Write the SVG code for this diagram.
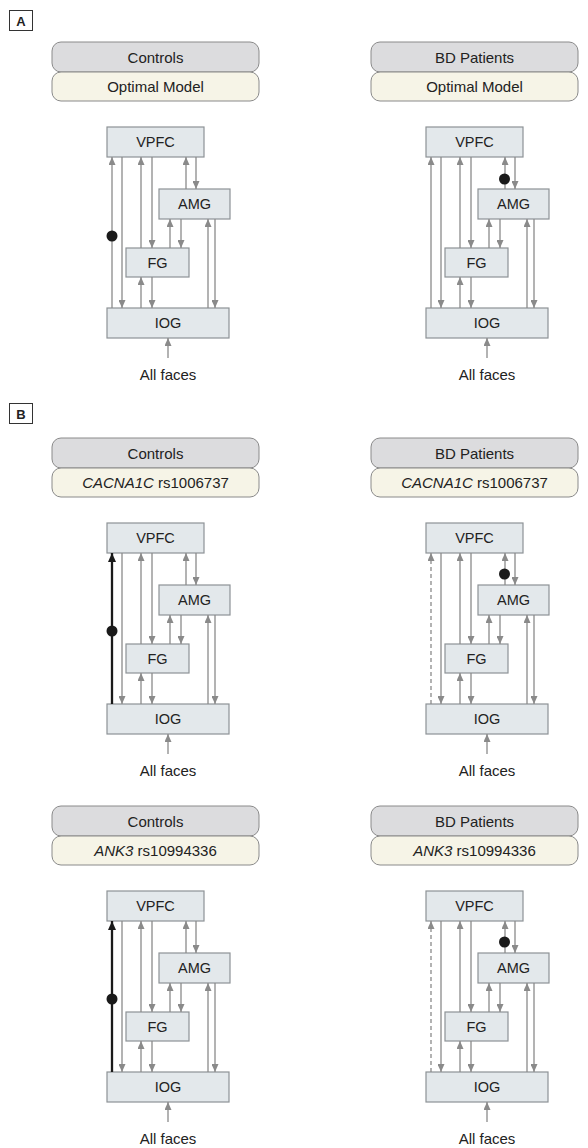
<svg xmlns="http://www.w3.org/2000/svg" xmlns:xlink="http://www.w3.org/1999/xlink" width="588" height="1148" viewBox="0 0 588 1148">
<style>
text{font-family:"Liberation Sans",Arial,sans-serif;fill:#222;}
.ht{font-size:15px;text-anchor:middle;}
.nt{font-size:14.5px;text-anchor:middle;}
.pl{font-size:13px;font-weight:bold;text-anchor:middle;}
.hd1{fill:#dcdcde;stroke:#8a8a8a;stroke-width:1;}
.hd2{fill:#f6f4e7;stroke:#8a8a8a;stroke-width:1;}
.nd{fill:#e3e8eb;stroke:#8d9296;stroke-width:1.2;}
.lb{fill:#fff;stroke:#333;stroke-width:1;}
.c{stroke:#8a8a8a;stroke-width:1.3;fill:none;marker-end:url(#ah);}
.k{stroke:#1a1a1a;stroke-width:2.3;fill:none;marker-end:url(#akb);}
.d{stroke:#8a8a8a;stroke-width:1.3;fill:none;stroke-dasharray:4 3;marker-end:url(#ah);}
.dot{fill:#1a1a1a;}
</style>
<defs>
<marker id="ah" markerUnits="userSpaceOnUse" markerWidth="8" markerHeight="7" refX="8" refY="3.5" orient="auto"><path d="M0,0 L8,3.5 L0,7 z" fill="#8a8a8a"/></marker>
<marker id="akb" markerUnits="userSpaceOnUse" markerWidth="9" markerHeight="8" refX="9" refY="4" orient="auto"><path d="M0,0 L9,4 L0,8 z" fill="#1a1a1a"/></marker>
</defs>

<g id="label-A"><rect class="lb" x="9.5" y="10.5" width="23" height="20"/><text class="pl" x="21" y="25.5">A</text></g>
<g id="label-B"><rect class="lb" x="9.5" y="403.5" width="23" height="20"/><text class="pl" x="21" y="418.5">B</text></g>

<!-- Panel A Controls -->
<g id="A-controls">
<g id="A-ctl-header"><rect class="hd1" x="52" y="42" width="207" height="30" rx="9"/><text class="ht" x="155.5" y="62.5">Controls</text><rect class="hd2" x="52" y="72" width="207" height="29" rx="9"/><text class="ht" x="155.5" y="92">Optimal Model</text></g>
<g id="A-ctl-VPFC"><rect class="nd" x="107" y="127" width="97" height="30"/><text class="nt" x="155.5" y="147">VPFC</text></g>
<g id="A-ctl-AMG"><rect class="nd" x="159" y="189" width="71" height="30"/><text class="nt" x="194.5" y="209">AMG</text></g>
<g id="A-ctl-FG"><rect class="nd" x="126" y="248" width="63" height="29"/><text class="nt" x="157.5" y="267.5">FG</text></g>
<g id="A-ctl-IOG"><rect class="nd" x="107" y="308" width="122" height="30"/><text class="nt" x="168" y="328">IOG</text></g>
<g id="A-ctl-input"><text class="ht" x="168" y="380">All faces</text></g>
<g id="A-ctl-connectors">
<line class="c" x1="112" y1="308" x2="112" y2="157"/>
<line class="c" x1="122" y1="157" x2="122" y2="308"/>
<line class="c" x1="141" y1="248" x2="141" y2="157"/>
<line class="c" x1="152" y1="157" x2="152" y2="248"/>
<line class="c" x1="186" y1="189" x2="186" y2="157"/>
<line class="c" x1="196" y1="157" x2="196" y2="189"/>
<line class="c" x1="170" y1="248" x2="170" y2="219"/>
<line class="c" x1="181" y1="219" x2="181" y2="248"/>
<line class="c" x1="141" y1="308" x2="141" y2="277"/>
<line class="c" x1="152" y1="277" x2="152" y2="308"/>
<line class="c" x1="208" y1="308" x2="208" y2="219"/>
<line class="c" x1="215" y1="219" x2="215" y2="308"/>
<line class="c" x1="168" y1="358" x2="168" y2="338"/>
<circle class="dot" cx="112" cy="236" r="5.5"/>
</g>
</g>

<!-- Panel A BD -->
<g id="A-bd" transform="translate(319,0)">
<g id="A-bd-header"><rect class="hd1" x="52" y="42" width="207" height="30" rx="9"/><text class="ht" x="155.5" y="62.5">BD Patients</text><rect class="hd2" x="52" y="72" width="207" height="29" rx="9"/><text class="ht" x="155.5" y="92">Optimal Model</text></g>
<g id="A-bd-VPFC"><rect class="nd" x="107" y="127" width="97" height="30"/><text class="nt" x="155.5" y="147">VPFC</text></g>
<g id="A-bd-AMG"><rect class="nd" x="159" y="189" width="71" height="30"/><text class="nt" x="194.5" y="209">AMG</text></g>
<g id="A-bd-FG"><rect class="nd" x="126" y="248" width="63" height="29"/><text class="nt" x="157.5" y="267.5">FG</text></g>
<g id="A-bd-IOG"><rect class="nd" x="107" y="308" width="122" height="30"/><text class="nt" x="168" y="328">IOG</text></g>
<g id="A-bd-input"><text class="ht" x="168" y="380">All faces</text></g>
<g id="A-bd-connectors">
<line class="c" x1="112" y1="308" x2="112" y2="157"/>
<line class="c" x1="122" y1="157" x2="122" y2="308"/>
<line class="c" x1="141" y1="248" x2="141" y2="157"/>
<line class="c" x1="152" y1="157" x2="152" y2="248"/>
<line class="c" x1="186" y1="189" x2="186" y2="157"/>
<line class="c" x1="196" y1="157" x2="196" y2="189"/>
<line class="c" x1="170" y1="248" x2="170" y2="219"/>
<line class="c" x1="181" y1="219" x2="181" y2="248"/>
<line class="c" x1="141" y1="308" x2="141" y2="277"/>
<line class="c" x1="152" y1="277" x2="152" y2="308"/>
<line class="c" x1="208" y1="308" x2="208" y2="219"/>
<line class="c" x1="215" y1="219" x2="215" y2="308"/>
<line class="c" x1="168" y1="358" x2="168" y2="338"/>
<circle class="dot" cx="185.5" cy="179" r="5.5"/>
</g>
</g>

<!-- Panel B1 Controls -->
<g id="B1-controls" transform="translate(0,396)">
<g id="B1-ctl-header"><rect class="hd1" x="52" y="42" width="207" height="30" rx="9"/><text class="ht" x="155.5" y="62.5">Controls</text><rect class="hd2" x="52" y="72" width="207" height="29" rx="9"/><text class="ht" x="155.5" y="92"><tspan font-style="italic">CACNA1C</tspan> rs1006737</text></g>
<g id="B1-ctl-VPFC"><rect class="nd" x="107" y="127" width="97" height="30"/><text class="nt" x="155.5" y="147">VPFC</text></g>
<g id="B1-ctl-AMG"><rect class="nd" x="159" y="189" width="71" height="30"/><text class="nt" x="194.5" y="209">AMG</text></g>
<g id="B1-ctl-FG"><rect class="nd" x="126" y="248" width="63" height="29"/><text class="nt" x="157.5" y="267.5">FG</text></g>
<g id="B1-ctl-IOG"><rect class="nd" x="107" y="308" width="122" height="30"/><text class="nt" x="168" y="328">IOG</text></g>
<g id="B1-ctl-input"><text class="ht" x="168" y="380">All faces</text></g>
<g id="B1-ctl-connectors">
<line class="k" x1="112" y1="308" x2="112" y2="157"/>
<line class="c" x1="122" y1="157" x2="122" y2="308"/>
<line class="c" x1="141" y1="248" x2="141" y2="157"/>
<line class="c" x1="152" y1="157" x2="152" y2="248"/>
<line class="c" x1="186" y1="189" x2="186" y2="157"/>
<line class="c" x1="196" y1="157" x2="196" y2="189"/>
<line class="c" x1="170" y1="248" x2="170" y2="219"/>
<line class="c" x1="181" y1="219" x2="181" y2="248"/>
<line class="c" x1="141" y1="308" x2="141" y2="277"/>
<line class="c" x1="152" y1="277" x2="152" y2="308"/>
<line class="c" x1="208" y1="308" x2="208" y2="219"/>
<line class="c" x1="215" y1="219" x2="215" y2="308"/>
<line class="c" x1="168" y1="358" x2="168" y2="338"/>
<circle class="dot" cx="112" cy="235" r="5.5"/>
</g>
</g>

<!-- Panel B1 BD -->
<g id="B1-bd" transform="translate(319,396)">
<g id="B1-bd-header"><rect class="hd1" x="52" y="42" width="207" height="30" rx="9"/><text class="ht" x="155.5" y="62.5">BD Patients</text><rect class="hd2" x="52" y="72" width="207" height="29" rx="9"/><text class="ht" x="155.5" y="92"><tspan font-style="italic">CACNA1C</tspan> rs1006737</text></g>
<g id="B1-bd-VPFC"><rect class="nd" x="107" y="127" width="97" height="30"/><text class="nt" x="155.5" y="147">VPFC</text></g>
<g id="B1-bd-AMG"><rect class="nd" x="159" y="189" width="71" height="30"/><text class="nt" x="194.5" y="209">AMG</text></g>
<g id="B1-bd-FG"><rect class="nd" x="126" y="248" width="63" height="29"/><text class="nt" x="157.5" y="267.5">FG</text></g>
<g id="B1-bd-IOG"><rect class="nd" x="107" y="308" width="122" height="30"/><text class="nt" x="168" y="328">IOG</text></g>
<g id="B1-bd-input"><text class="ht" x="168" y="380">All faces</text></g>
<g id="B1-bd-connectors">
<line class="d" x1="112" y1="308" x2="112" y2="157"/>
<line class="c" x1="122" y1="157" x2="122" y2="308"/>
<line class="c" x1="141" y1="248" x2="141" y2="157"/>
<line class="c" x1="152" y1="157" x2="152" y2="248"/>
<line class="c" x1="186" y1="189" x2="186" y2="157"/>
<line class="c" x1="196" y1="157" x2="196" y2="189"/>
<line class="c" x1="170" y1="248" x2="170" y2="219"/>
<line class="c" x1="181" y1="219" x2="181" y2="248"/>
<line class="c" x1="141" y1="308" x2="141" y2="277"/>
<line class="c" x1="152" y1="277" x2="152" y2="308"/>
<line class="c" x1="208" y1="308" x2="208" y2="219"/>
<line class="c" x1="215" y1="219" x2="215" y2="308"/>
<line class="c" x1="168" y1="358" x2="168" y2="338"/>
<circle class="dot" cx="185.5" cy="178" r="5.5"/>
</g>
</g>

<!-- Panel B2 Controls -->
<g id="B2-controls" transform="translate(0,764)">
<g id="B2-ctl-header"><rect class="hd1" x="52" y="42" width="207" height="30" rx="9"/><text class="ht" x="155.5" y="62.5">Controls</text><rect class="hd2" x="52" y="72" width="207" height="29" rx="9"/><text class="ht" x="155.5" y="92"><tspan font-style="italic">ANK3</tspan> rs10994336</text></g>
<g id="B2-ctl-VPFC"><rect class="nd" x="107" y="127" width="97" height="30"/><text class="nt" x="155.5" y="147">VPFC</text></g>
<g id="B2-ctl-AMG"><rect class="nd" x="159" y="189" width="71" height="30"/><text class="nt" x="194.5" y="209">AMG</text></g>
<g id="B2-ctl-FG"><rect class="nd" x="126" y="248" width="63" height="29"/><text class="nt" x="157.5" y="267.5">FG</text></g>
<g id="B2-ctl-IOG"><rect class="nd" x="107" y="308" width="122" height="30"/><text class="nt" x="168" y="328">IOG</text></g>
<g id="B2-ctl-input"><text class="ht" x="168" y="380">All faces</text></g>
<g id="B2-ctl-connectors">
<line class="k" x1="112" y1="308" x2="112" y2="157"/>
<line class="c" x1="122" y1="157" x2="122" y2="308"/>
<line class="c" x1="141" y1="248" x2="141" y2="157"/>
<line class="c" x1="152" y1="157" x2="152" y2="248"/>
<line class="c" x1="186" y1="189" x2="186" y2="157"/>
<line class="c" x1="196" y1="157" x2="196" y2="189"/>
<line class="c" x1="170" y1="248" x2="170" y2="219"/>
<line class="c" x1="181" y1="219" x2="181" y2="248"/>
<line class="c" x1="141" y1="308" x2="141" y2="277"/>
<line class="c" x1="152" y1="277" x2="152" y2="308"/>
<line class="c" x1="208" y1="308" x2="208" y2="219"/>
<line class="c" x1="215" y1="219" x2="215" y2="308"/>
<line class="c" x1="168" y1="358" x2="168" y2="338"/>
<circle class="dot" cx="112" cy="235" r="5.5"/>
</g>
</g>

<!-- Panel B2 BD -->
<g id="B2-bd" transform="translate(319,764)">
<g id="B2-bd-header"><rect class="hd1" x="52" y="42" width="207" height="30" rx="9"/><text class="ht" x="155.5" y="62.5">BD Patients</text><rect class="hd2" x="52" y="72" width="207" height="29" rx="9"/><text class="ht" x="155.5" y="92"><tspan font-style="italic">ANK3</tspan> rs10994336</text></g>
<g id="B2-bd-VPFC"><rect class="nd" x="107" y="127" width="97" height="30"/><text class="nt" x="155.5" y="147">VPFC</text></g>
<g id="B2-bd-AMG"><rect class="nd" x="159" y="189" width="71" height="30"/><text class="nt" x="194.5" y="209">AMG</text></g>
<g id="B2-bd-FG"><rect class="nd" x="126" y="248" width="63" height="29"/><text class="nt" x="157.5" y="267.5">FG</text></g>
<g id="B2-bd-IOG"><rect class="nd" x="107" y="308" width="122" height="30"/><text class="nt" x="168" y="328">IOG</text></g>
<g id="B2-bd-input"><text class="ht" x="168" y="380">All faces</text></g>
<g id="B2-bd-connectors">
<line class="d" x1="112" y1="308" x2="112" y2="157"/>
<line class="c" x1="122" y1="157" x2="122" y2="308"/>
<line class="c" x1="141" y1="248" x2="141" y2="157"/>
<line class="c" x1="152" y1="157" x2="152" y2="248"/>
<line class="c" x1="186" y1="189" x2="186" y2="157"/>
<line class="c" x1="196" y1="157" x2="196" y2="189"/>
<line class="c" x1="170" y1="248" x2="170" y2="219"/>
<line class="c" x1="181" y1="219" x2="181" y2="248"/>
<line class="c" x1="141" y1="308" x2="141" y2="277"/>
<line class="c" x1="152" y1="277" x2="152" y2="308"/>
<line class="c" x1="208" y1="308" x2="208" y2="219"/>
<line class="c" x1="215" y1="219" x2="215" y2="308"/>
<line class="c" x1="168" y1="358" x2="168" y2="338"/>
<circle class="dot" cx="185.5" cy="178" r="5.5"/>
</g>
</g>
</svg>
